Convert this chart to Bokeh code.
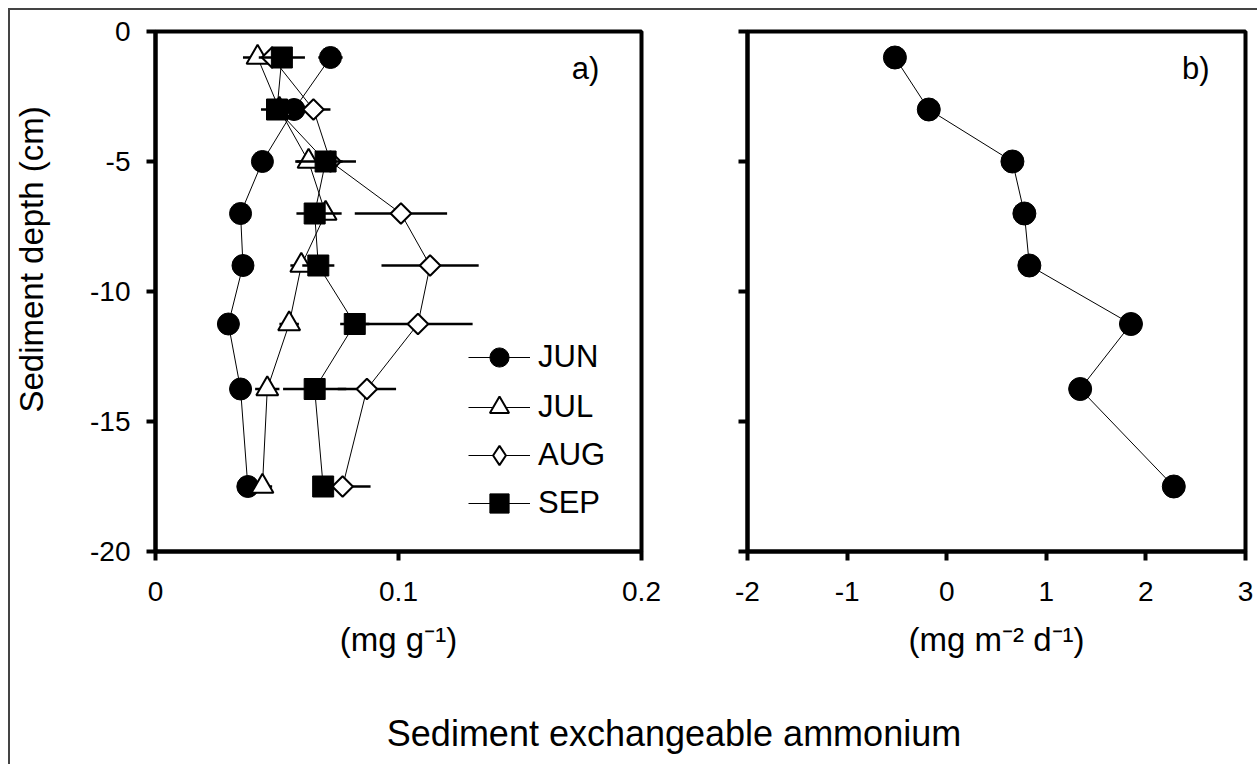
import numpy as np
from bokeh.plotting import figure
from bokeh.layouts import row, column
from bokeh.models import (ColumnDataSource, Legend, LegendItem, Label, Div, FixedTicker,
                          Range1d, NumeralTickFormatter, CustomJSTickFormatter)
from bokeh.embed import file_html
from bokeh.resources import INLINE

FONT = "Liberation Sans"

# ---- data ----
depth = [-1, -3, -5, -7, -9, -11.25, -13.75, -17.5]
jun = [0.072, 0.057, 0.044, 0.035, 0.036, 0.030, 0.035, 0.038]
jun_err = [0.005, 0.003, 0.003, 0.003, 0.003, 0.003, 0.003, 0.003]
jul = [0.042, 0.051, 0.063, 0.070, 0.060, 0.055, 0.046, 0.044]
jul_err = [0.006, 0.004, 0.005, 0.0066, 0.0045, 0.004, 0.005, 0.004]
aug = [0.048, 0.065, 0.072, 0.101, 0.113, 0.108, 0.087, 0.077]
aug_err = [0.004, 0.007, 0.005, 0.019, 0.020, 0.0225, 0.012, 0.0115]
sep = [0.052, 0.050, 0.070, 0.0655, 0.067, 0.082, 0.0655, 0.069]
sep_err = [0.0095, 0.0066, 0.0125, 0.0075, 0.0066, 0.006, 0.013, 0.004]
flux = [-0.52, -0.18, 0.66, 0.78, 0.83, 1.85, 1.34, 2.28]

y_ticks = [-20, -15, -10, -5, 0]
xa_ticks = [0, 0.1, 0.2]
xb_ticks = [-2, -1, 0, 1, 2, 3]

PLAIN = CustomJSTickFormatter(code="return tick.toString()")


def style_fig(p):
    p.xgrid.visible = False
    p.ygrid.visible = False
    p.outline_line_color = "black"
    p.outline_line_width = 4
    p.outline_line_alpha = 1
    p.background_fill_color = "white"
    p.border_fill_color = "white"
    for ax in [p.xaxis[0], p.yaxis[0]]:
        ax.axis_line_width = 4
        ax.axis_line_color = "black"
        ax.major_tick_line_width = 4
        ax.major_tick_line_color = "black"
        ax.major_tick_out = 9
        ax.major_tick_in = 0
        ax.minor_tick_line_color = None
        ax.major_label_text_font = FONT
        ax.major_label_text_font_size = "28px"
        ax.major_label_text_color = "black"
        ax.axis_label_text_font = FONT
        ax.axis_label_text_font_style = "normal"
        ax.axis_label_text_color = "black"
        ax.axis_label_text_font_size = "33px"


FIG_H = 21 + 520 + 130

p1 = figure(width=684, height=FIG_H, x_range=Range1d(0, 0.2), y_range=Range1d(-20, 0),
            min_border_left=145, min_border_right=53, min_border_top=21, min_border_bottom=130,
            output_backend="svg", toolbar_location=None)
style_fig(p1)
p1.xaxis.ticker = FixedTicker(ticks=xa_ticks)
p1.xaxis.formatter = NumeralTickFormatter(format="0.[0]")
p1.yaxis.ticker = FixedTicker(ticks=y_ticks)
p1.yaxis.formatter = PLAIN
p1.xaxis.major_label_standoff = 21
p1.yaxis.major_label_standoff = 16
p1.xaxis.axis_label = "(mg g\u207b\u00b9)"
p1.xaxis.axis_label_standoff = 17
p1.yaxis.axis_label = "\u00a0" * 7 + "Sediment depth (cm)"
p1.yaxis.axis_label_standoff = 37

series = [
    ("JUN", jun, jun_err, dict(marker="circle", size=22, fill_color="black", line_color="black", line_width=1), "circle", 170),
    ("JUL", jul, jul_err, dict(marker="triangle", size=22, fill_color="white", line_color="black", line_width=2), "triangle", 120),
    ("AUG", aug, aug_err, dict(marker="square", angle=np.pi / 4, size=14.5, fill_color="white", line_color="black", line_width=2), "diamond", 72),
    ("SEP", sep, sep_err, dict(marker="square", size=21, fill_color="black", line_color="black", line_width=1), "square", 24),
]

for name, vals, errs, mk, legend_marker, vy in series:
    src = ColumnDataSource(dict(
        x=vals, y=depth,
        lo=[v - e for v, e in zip(vals, errs)],
        hi=[v + e for v, e in zip(vals, errs)],
    ))
    p1.segment(x0="lo", x1="hi", y0="y", y1="y", source=src, line_color="black", line_width=2.5)
    lr = p1.line("x", "y", source=src, line_color="black", line_width=1)
    sr = p1.scatter("x", "y", source=src, **mk)
    leg_r = sr
    if legend_marker == "diamond":
        # legend-only glyph (not drawn in the plot: NaN position)
        leg_r = p1.scatter(x=[float("nan")], y=[float("nan")], marker="diamond", size=20,
                           fill_color="white", line_color="black", line_width=2)
    leg = Legend(items=[LegendItem(label=name, renderers=[lr, leg_r])],
                 location=(313, vy), glyph_width=62, glyph_height=48, label_height=48,
                 label_standoff=8, padding=0, margin=0, spacing=0,
                 border_line_color=None, background_fill_alpha=0,
                 label_text_font=FONT, label_text_font_size="31px", label_text_color="black")
    p1.add_layout(leg)

p1.add_layout(Label(x=0.177, y=-1.42, text="a)", text_align="center", text_baseline="middle",
                    text_font=FONT, text_font_size="31px", text_color="black"))

p2 = figure(width=53 + 498 + 11, height=FIG_H, x_range=Range1d(-2, 3), y_range=Range1d(-20, 0),
            min_border_left=53, min_border_right=11, min_border_top=21, min_border_bottom=130,
            output_backend="svg", toolbar_location=None)
style_fig(p2)
p2.xaxis.ticker = FixedTicker(ticks=xb_ticks)
p2.xaxis.formatter = PLAIN
p2.yaxis.ticker = FixedTicker(ticks=y_ticks)
p2.yaxis.formatter = CustomJSTickFormatter(code="return ''")
p2.yaxis.major_label_standoff = 0
p2.xaxis.major_label_standoff = 21
p2.xaxis.axis_label = "(mg m\u207b\u00b2 d\u207b\u00b9)"
p2.xaxis.axis_label_standoff = 17

src2 = ColumnDataSource(dict(x=flux, y=depth))
p2.line("x", "y", source=src2, line_color="black", line_width=1)
p2.scatter("x", "y", source=src2, marker="circle", size=23, fill_color="black", line_color="black")
p2.add_layout(Label(x=2.5, y=-1.42, text="b)", text_align="center", text_baseline="middle",
                    text_font=FONT, text_font_size="31px", text_color="black"))

caption = Div(
    text='<div style="font-family: \'Liberation Sans\', Arial, sans-serif; font-size: 36px; color: black; '
         'text-align: center; width: 1148px; margin-left: 85px; padding-top: 27px; line-height: 42px; '
         'white-space: nowrap;">Sediment exchangeable ammonium</div>',
    width=1240, height=75)

layout = column(row(p1, p2), caption,
                styles={"margin-left": "8px", "margin-top": "8px",
                        "border-left": "2px solid #444", "border-top": "2px solid #444"})

with open("out.html", "w") as f:
    f.write(file_html(layout, INLINE))
